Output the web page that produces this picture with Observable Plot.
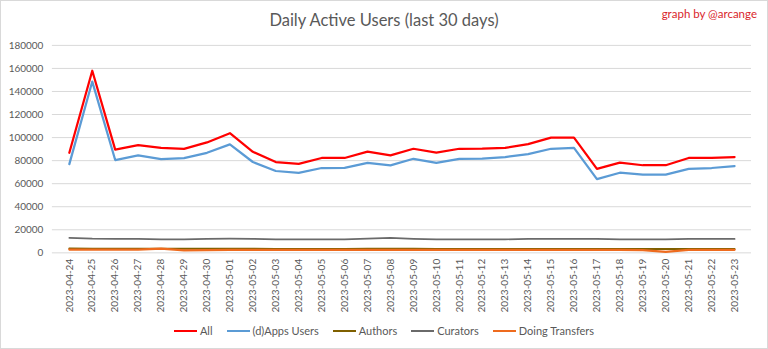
<!DOCTYPE html>
<html>
<head>
<meta charset="utf-8">
<script src="https://cdn.jsdelivr.net/npm/d3@7"></script>
<script src="https://cdn.jsdelivr.net/npm/@observablehq/plot@0.6"></script>
<style>
  html, body { margin: 0; padding: 0; background: #fff; }
  #chart { position: relative; width: 766px; height: 347px; border: 1px solid #d9d9d9; background: #fff; overflow: hidden; font-family: Lato, "Open Sans", sans-serif; }
  #chart svg { position: absolute; left: -1px; top: -1px; }
  #title { position: absolute; left: 0; width: 766px; top: 9px; text-align: center; font-size: 16.5px; color: #595959; }
  #credit { position: absolute; right: 10px; top: 6px; font-size: 11.5px; color: #d9262c; }
  #legend { position: absolute; left: 0; width: 766px; top: 323px; display: flex; justify-content: center; gap: 14px; font-size: 11px; color: #595959; }
  .item { display: flex; align-items: center; gap: 3px; }
  .sw { display: inline-block; width: 23px; height: 2px; }
</style>
</head>
<body>
<div id="chart">
  <div id="title">Daily Active Users (last 30 days)</div>
  <div id="credit">graph by @arcange</div>
  <div id="legend"></div>
</div>
<script>
const dates = ["2023-04-24","2023-04-25","2023-04-26","2023-04-27","2023-04-28","2023-04-29","2023-04-30","2023-05-01","2023-05-02","2023-05-03","2023-05-04","2023-05-05","2023-05-06","2023-05-07","2023-05-08","2023-05-09","2023-05-10","2023-05-11","2023-05-12","2023-05-13","2023-05-14","2023-05-15","2023-05-16","2023-05-17","2023-05-18","2023-05-19","2023-05-20","2023-05-21","2023-05-22","2023-05-23"];
const allUsers = [86800,158000,89500,93500,91100,90200,95800,103800,87700,78800,77200,82300,82300,87800,84500,90300,86900,90300,90400,91100,94300,99900,99900,72800,78200,76000,76000,82300,82300,83100];
const appsUsers = [77000,148600,80500,84500,81300,82200,86800,94100,78800,71000,69300,73600,73700,78100,75900,81600,78100,81600,81700,83100,85700,90300,91100,64000,69500,67900,67900,72800,73600,75300];
const authors = [3700,3600,3600,3600,3500,3500,3500,3500,3500,3400,3400,3400,3400,3500,3500,3500,3400,3400,3400,3400,3400,3400,3400,3400,3300,3300,3300,3300,3300,3300];
const curators = [12900,12300,12200,12100,11600,11600,12200,12300,12200,11600,11600,11600,11700,12300,12900,12200,11700,11700,11700,11700,12100,12100,12100,12200,11600,11600,11600,12100,12100,12100];
const transfers = [2800,2800,2800,2800,3600,2200,2300,2600,2600,2600,2600,2600,2600,2600,2600,2600,2600,2600,2600,2600,2600,2600,2600,2600,2600,2300,800,2500,2600,2600];
const yTicks = [0,20000,40000,60000,80000,100000,120000,140000,160000,180000];

const series = [
  {name: "All", values: allUsers, color: "#ff0000", width: 2.25},
  {name: "(d)Apps Users", values: appsUsers, color: "#5b9bd5", width: 2.25},
  {name: "Authors", values: authors, color: "#7f6000", width: 2},
  {name: "Curators", values: curators, color: "#6a6a6a", width: 1.75},
  {name: "Doing Transfers", values: transfers, color: "#ee6b1e", width: 2.25}
];

const rows = series.flatMap(s => dates.map((d, i) => ({date: d, value: s.values[i], series: s.name})));

const plot = Plot.plot({
  width: 768,
  height: 349,
  marginTop: 45,
  marginBottom: 96,
  marginLeft: 52,
  marginRight: 15,
  style: {fontFamily: "Lato, 'Open Sans', sans-serif", fontSize: "10px", color: "#595959", background: "transparent"},
  x: {type: "point", domain: dates, padding: 0.5, label: null},
  y: {domain: [0, 180000], label: null},
  marks: [
    Plot.gridY(yTicks, {stroke: "#d9d9d9", strokeOpacity: 1, strokeWidth: 1}),
    Plot.axisY(yTicks, {tickSize: 0, tickPadding: 9, tickFormat: d => String(d), fill: "#595959", label: null}),
    Plot.axisX({tickSize: 0, tickPadding: 6, tickRotate: -90, fill: "#595959", label: null}),
    ...series.map(s => Plot.line(rows.filter(r => r.series === s.name), {
      x: "date", y: "value", stroke: s.color, strokeWidth: s.width, strokeLinejoin: "round", strokeLinecap: "round"
    }))
  ]
});
document.getElementById("chart").prepend(plot);

const legend = document.getElementById("legend");
series.forEach(s => {
  const item = document.createElement("div");
  item.className = "item";
  const sw = document.createElement("span");
  sw.className = "sw";
  sw.style.background = s.color;
  const t = document.createElement("span");
  t.textContent = s.name;
  item.append(sw, t);
  legend.append(item);
});
</script>
</body>
</html>
